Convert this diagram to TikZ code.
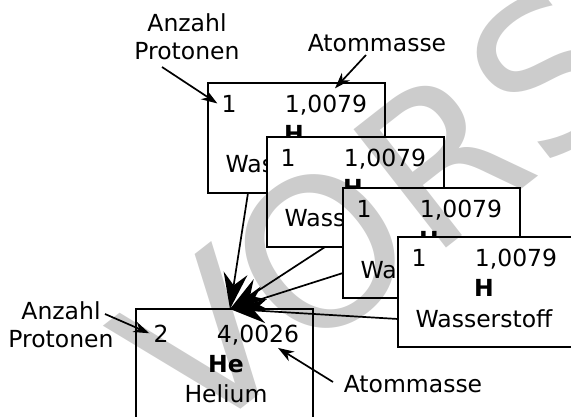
\documentclass[tikz,border=0pt]{standalone}
\usepackage{fontspec}
\setmainfont{DejaVu Sans}
\usetikzlibrary{arrows.meta,calc}

% One element card: name, x, y (top left), Z, mass, symbol, element name, text shift x, text shift y
\newcommand\elcard[9]{%
  \node[elbox] (#1) at (#2,#3) {};
  \node[cardtxt] (#1-z) at ($(#1.north west)+(21+#8,30+#9)$) {#4};
  \node[cardtxt] (#1-m) at ($(#1.north west)+(118+#8,30+#9)$) {#5};
  \node[cardtxt,font=\cardfont\bfseries] (#1-s) at ($(#1.north west)+(86+#8,60+#9)$) {#6};
  \node[cardtxt] (#1-n) at ($(#1.north west)+(86+#8,90+#9)$) {#7};
}
\newcommand\cardfont{\fontsize{23.5}{28}\selectfont}

\begin{document}
\begin{tikzpicture}[x=1pt,y=-1pt,
  elbox/.style={draw, line width=1.7pt, fill=white, minimum width=177pt,
    minimum height=110pt, inner sep=0pt, outer sep=0pt, anchor=north west},
  cardtxt/.style={anchor=base, inner sep=0pt, font=\cardfont},
  lbl/.style={anchor=base, inner sep=0pt, font=\cardfont, align=center},
  bigarrow/.style={line width=1.7pt, -{Stealth[length=36pt,width=24pt,inset=12pt]}},
  smallarrow/.style={line width=1.7pt, -{Stealth[length=16pt,width=11pt,inset=5pt]}},
  wmark/.style={text=black, text opacity=0.2, inner sep=0pt,
    font=\fontsize{206}{206}\selectfont}
]
\useasboundingbox (0,0) rectangle (571,417);
\fill[white] (0,0) rectangle (571,417);

% stacked hydrogen cards, the last one on top
\elcard{h1}{208}{83}{1}{1,0079}{H}{Wasserstoff}{0}{0}
\elcard{h2}{267}{137}{1}{1,0079}{H}{Wasserstoff}{0}{0}
\elcard{h3}{343}{188}{1}{1,0079}{H}{Wasserstoff}{0}{0}
\elcard{h4}{398}{237}{1}{1,0079}{H}{Wasserstoff}{0}{0}
% helium card
\elcard{he}{136}{309}{2}{4,0026}{He}{Helium}{4}{3}

% labels (base = baseline of the last line)
\node[lbl] (lp1) at (187,60) {Anzahl\\Protonen};
\node[lbl] (la1) at (377,52) {Atommasse};
\node[lbl] (lp2) at (61,347) {Anzahl\\Protonen};
\node[lbl] (la2) at (413,392) {Atommasse};

\coordinate (lp1s) at (162,67);
\coordinate (la1s) at (366,55);
\coordinate (lp2s) at (105,314);
\coordinate (la2s) at (333,382);

\draw[smallarrow] (lp1s) -- ($(h1-z.west)+(-4,-1)$);
\draw[smallarrow] (la1s) -- ($(h1-m.north)+(9,-7)$);
\draw[smallarrow] (lp2s) -- ($(he-z.west)+(-4,0)$);
\draw[smallarrow] (la2s) -- ($(he-m.south)+(20,3)$);

% fusion: the four hydrogen cards point at the helium card
\coordinate (fuse) at (230,309);
\draw[bigarrow] ($(h1.south west)+(40,0)$) -- (fuse);
\draw[bigarrow] ($(h2.south west)+(58,0)$) -- (fuse);
\draw[bigarrow] ($(h3.north west)+(0,85)$) -- (fuse);
\draw[bigarrow] ($(h4.north west)+(0,82)$) -- (fuse);

% watermark
\node[wmark, anchor=base west, rotate=38] (wm) at (194.4,445.4) {VORSCHAU};
\end{tikzpicture}
\end{document}
